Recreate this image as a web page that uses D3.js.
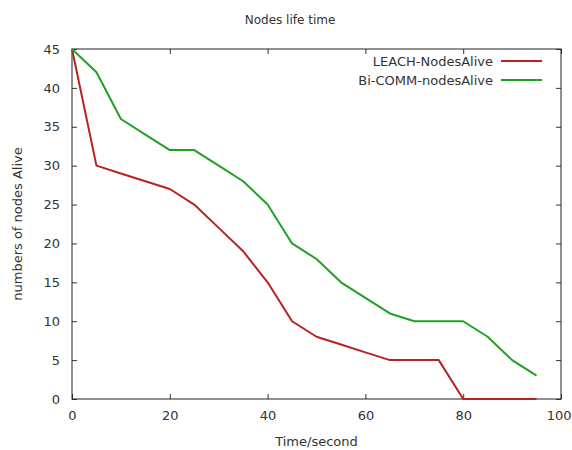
<!DOCTYPE html>
<html>
<head>
<meta charset="utf-8">
<script src="https://cdn.jsdelivr.net/npm/d3@7"></script>
<style>
  body { margin: 0; background: #fff; }
  svg text { font-family: "DejaVu Sans", sans-serif; fill: #333; }
</style>
</head>
<body>
<div id="chart"></div>
<script>
// time in seconds, sampled every 5 s
var times = [0, 5, 10, 15, 20, 25, 30, 35, 40, 45, 50, 55, 60, 65, 70, 75, 80, 85, 90, 95];
var leachAlive = [45, 30, 29, 28, 27, 25, 22, 19, 15, 10, 8, 7, 6, 5, 5, 5, 0, 0, 0, 0];
var bicommAlive = [45, 42, 36, 34, 32, 32, 30, 28, 25, 20, 18, 15, 13, 11, 10, 10, 10, 8, 5, 3];
var xTicks = [0, 20, 40, 60, 80, 100];
var yTicks = [0, 5, 10, 15, 20, 25, 30, 35, 40, 45];
var seriesNames = ["LEACH-NodesAlive", "Bi-COMM-nodesAlive"];
var seriesColors = ["#b82222", "#22a022"];

var W = 572, H = 450;
var margin = {top: 49, right: 11, bottom: 51, left: 72};
var width = W - margin.left - margin.right,
    height = H - margin.top - margin.bottom;

var svg = d3.select("#chart").append("svg")
    .attr("width", W)
    .attr("height", H);

var g = svg.append("g")
    .attr("transform", "translate(" + margin.left + "," + margin.top + ")");

var x = d3.scaleLinear().domain([0, 100]).range([0, width]);
var y = d3.scaleLinear().domain([0, 45]).range([height, 0]);

// axes, ticks pointing inward like gnuplot, mirrored on top/right
function styleAxis(sel) {
    sel.select(".domain").remove();
    sel.selectAll("line").attr("stroke", "#333");
    sel.selectAll("text").style("font-size", "13px");
}

var xAxisG = g.append("g")
    .attr("transform", "translate(0," + height + ")")
    .call(d3.axisBottom(x).tickValues(xTicks).tickSize(-5).tickPadding(12))
    .call(styleAxis);

// last label sits against the page edge, keep it inside
xAxisG.selectAll("text")
    .filter(function(d) { return d === 100; })
    .attr("text-anchor", "end")
    .attr("x", 10);

g.append("g")
    .call(d3.axisLeft(y).tickValues(yTicks).tickSize(-5).tickPadding(12))
    .call(styleAxis);

g.append("g")
    .call(d3.axisTop(x).tickValues(xTicks).tickSize(-5).tickFormat(""))
    .call(styleAxis);

g.append("g")
    .attr("transform", "translate(" + width + ",0)")
    .call(d3.axisRight(y).tickValues(yTicks).tickSize(-5).tickFormat(""))
    .call(styleAxis);

// frame
g.append("rect")
    .attr("width", width)
    .attr("height", height)
    .attr("fill", "none")
    .attr("stroke", "#222")
    .attr("stroke-width", 1);

var line = d3.line()
    .x(function(d) { return x(d[0]); })
    .y(function(d) { return y(d[1]); });

[leachAlive, bicommAlive].forEach(function(vals, i) {
    g.append("path")
        .datum(times.map(function(t, j) { return [t, vals[j]]; }))
        .attr("fill", "none")
        .attr("stroke", seriesColors[i])
        .attr("stroke-width", 2)
        .attr("stroke-linejoin", "round")
        .attr("d", line);
});

// legend
var legend = svg.append("g");
seriesNames.forEach(function(name, i) {
    var ly = 61 + i * 19;
    legend.append("text")
        .attr("x", 493)
        .attr("y", ly)
        .attr("dy", "0.35em")
        .attr("text-anchor", "end")
        .style("font-size", "13px")
        .text(name);
    legend.append("line")
        .attr("x1", 501).attr("x2", 542)
        .attr("y1", ly).attr("y2", ly)
        .attr("stroke", seriesColors[i])
        .attr("stroke-width", 2);
});

// title and axis labels
svg.append("text")
    .attr("x", 290)
    .attr("y", 24)
    .attr("text-anchor", "middle")
    .style("font-size", "12px")
    .text("Nodes life time");

svg.append("text")
    .attr("x", margin.left + width / 2)
    .attr("y", 446)
    .attr("text-anchor", "middle")
    .style("font-size", "13px")
    .text("Time/second");

svg.append("text")
    .attr("transform", "translate(22," + (margin.top + height / 2) + ") rotate(-90)")
    .attr("text-anchor", "middle")
    .style("font-size", "13px")
    .text("numbers of nodes Alive");
</script>
</body>
</html>
